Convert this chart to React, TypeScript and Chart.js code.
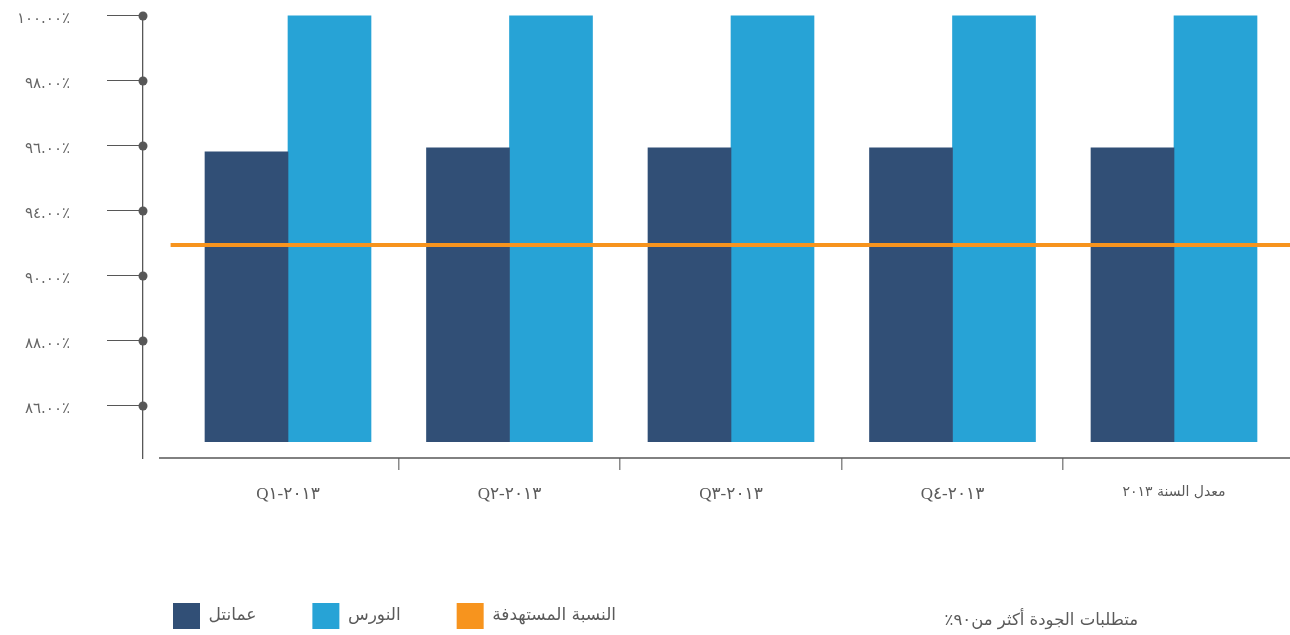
import React, { useEffect, useRef } from "react";
import { Chart, registerables } from "chart.js";

Chart.register(...registerables);

// ---- data ----
const CATEGORIES = [
  "Q١\u200E-٢٠١٣",
  "Q٢\u200E-٢٠١٣",
  "Q٣\u200E-٢٠١٣",
  "Q٤\u200E-٢٠١٣",
  "معدل السنة ٢٠١٣",
];
const OMANTEL = [95.82, 95.94, 95.94, 95.94, 95.94];
const NAWRAS = [100, 100, 100, 100, 100];
const TARGET = 91.9;
const BAR_BASE = 84.9;
const Y_TICK_VALUES = [86, 88, 90, 94, 96, 98, 100];
const Y_TICK_LABELS = ["٨٦.٠٠٪", "٨٨.٠٠٪", "٩٠.٠٠٪", "٩٤.٠٠٪", "٩٦.٠٠٪", "٩٨.٠٠٪", "١٠٠.٠٠٪"];
const SERIES_LABELS = ["عمانتل", "النورس", "النسبة المستهدفة"];
const FOOTNOTE = "متطلبات الجودة أكثر من٩٠٪";

// ---- style ----
const DARK = "#314F76";
const LIGHT = "#27A3D6";
const ORANGE = "#F7941E";
const AXIS = "#575757";
const TEXT = "#5a5a5a";
const AR_FONT = "'DejaVu Sans', sans-serif";
const LAT_FONT = "'Liberation Serif', 'DejaVu Sans', serif";

// percent -> evenly spaced tick position (the axis ticks are evenly spaced labels)
function toPos(v: number): number {
  const t = Y_TICK_VALUES;
  const n = t.length;
  if (v <= t[1]) return (v - t[0]) / (t[1] - t[0]);
  if (v >= t[n - 2]) return n - 2 + (v - t[n - 2]) / (t[n - 1] - t[n - 2]);
  for (let i = 1; i < n - 1; i++) {
    if (v <= t[i + 1]) return i + (v - t[i]) / (t[i + 1] - t[i]);
  }
  return n - 1;
}

const decor = {
  id: "decor",
  afterLayout(chart: any) {
    const lg = chart.legend;
    if (!lg) return;
    const pad = lg.options.labels.padding;
    const dx = 173 - (lg.left + pad);
    const dy = 603 - (lg.top + pad);
    lg.left += dx;
    lg.right += dx;
    lg.top += dy;
    lg.bottom += dy;
  },
  afterDraw(chart: any) {
    const { ctx, chartArea, scales } = chart;
    const y = scales.y;
    ctx.save();
    ctx.strokeStyle = AXIS;
    ctx.lineWidth = 1.5;
    ctx.beginPath();
    ctx.moveTo(chartArea.left + 16, chartArea.bottom);
    ctx.lineTo(chartArea.right, chartArea.bottom);
    ctx.stroke();
    ctx.fillStyle = AXIS;
    y.ticks.forEach((t: any) => {
      const py = y.getPixelForValue(t.value);
      ctx.beginPath();
      ctx.arc(chartArea.left, py, 4.5, 0, Math.PI * 2);
      ctx.fill();
    });
    ctx.restore();
  },
};

export default function App() {
  const ref = useRef<HTMLCanvasElement>(null);

  useEffect(() => {
    if (!ref.current) return;
    const chart = new Chart(ref.current, {
      type: "bar",
      data: {
        datasets: [
          {
            type: "bar",
            label: SERIES_LABELS[0],
            data: CATEGORIES.map((_, i) => ({ x: i, y: toPos(OMANTEL[i]) })),
            backgroundColor: DARK,
            base: toPos(BAR_BASE),
            barThickness: 83,
            order: 2,
          } as any,
          {
            type: "bar",
            label: SERIES_LABELS[1],
            data: CATEGORIES.map((_, i) => ({ x: i, y: toPos(NAWRAS[i]) })),
            backgroundColor: LIGHT,
            base: toPos(BAR_BASE),
            barThickness: 83,
            order: 2,
          } as any,
          {
            type: "line",
            label: SERIES_LABELS[2],
            data: [
              { x: -0.53, y: toPos(TARGET) },
              { x: CATEGORIES.length - 0.47, y: toPos(TARGET) },
            ],
            borderColor: ORANGE,
            backgroundColor: ORANGE,
            borderWidth: 4,
            pointRadius: 0,
            fill: false,
            order: 0,
          } as any,
        ],
      },
      options: {
        animation: false,
        responsive: true,
        maintainAspectRatio: false,
        events: [],
        layout: { padding: { top: 14, left: 0, right: 0, bottom: 0 } },
        scales: {
          x: {
            type: "linear",
            min: -0.6546,
            max: 4.5237,
            offset: false,
            afterBuildTicks: (s: any) => {
              s.ticks = CATEGORIES.map((_, i) => ({ value: i }));
            },
            afterFit: (s: any) => {
              s.height = s.chart.height - 458 - (s.chart.legend ? s.chart.legend.height : 0);
              s.paddingLeft = 0;
              s.paddingRight = 0;
            },
            grid: {
              offset: true,
              drawOnChartArea: false,
              drawTicks: true,
              tickLength: 12,
              lineWidth: 1.5,
              color: (c: any) =>
                c.type !== "tick" || c.index === 0 ? "rgba(0,0,0,0)" : "#8a8a8a",
            },
            border: { display: false },
            ticks: {
              autoSkip: false,
              maxRotation: 0,
              padding: 14,
              color: TEXT,
              font: (c: any) =>
                c.index === CATEGORIES.length - 1
                  ? { family: AR_FONT, size: 14 }
                  : { family: LAT_FONT, size: 17 },
              callback: (_v: any, i: number) => CATEGORIES[i],
            },
          } as any,
          y: {
            type: "linear",
            min: -0.8,
            max: 6.03,
            afterBuildTicks: (s: any) => {
              s.ticks = Y_TICK_LABELS.map((_, i) => ({ value: i }));
            },
            afterFit: (s: any) => {
              s.width = 143;
              s.paddingTop = 0;
              s.paddingBottom = 0;
            },
            grid: {
              drawOnChartArea: false,
              drawTicks: true,
              tickLength: 36,
              color: AXIS,
              lineWidth: 1,
            },
            border: { display: true, color: AXIS, width: 1.3 },
            ticks: {
              padding: 37,
              labelOffset: 3,
              color: "#666666",
              font: { family: AR_FONT, size: 15 },
              callback: (_v: any, i: number) => Y_TICK_LABELS[i],
            },
          } as any,
        },
        plugins: {
          tooltip: { enabled: false },
          legend: {
            display: true,
            position: "bottom",
            align: "start",
            labels: {
              boxWidth: 27,
              boxHeight: 26,
              padding: 56,
              color: TEXT,
              font: { family: AR_FONT, size: 17 },
              sort: (a: any, b: any) => a.datasetIndex - b.datasetIndex,
              generateLabels: (ch: any) =>
                (Chart.defaults.plugins.legend.labels as any)
                  .generateLabels(ch)
                  .map((l: any) => ({ ...l, lineWidth: 0, strokeStyle: "rgba(0,0,0,0)" })),
            },
          },
        },
      },
      plugins: [decor as any],
    });
    return () => chart.destroy();
  }, []);

  return (
    <div
      style={{
        position: "fixed",
        left: 0,
        top: 0,
        width: 1290,
        height: 635,
        background: "#ffffff",
        overflow: "hidden",
      }}
    >
      <canvas ref={ref} />
      <div
        dir="rtl"
        style={{
          position: "absolute",
          right: 152,
          top: 610,
          fontFamily: AR_FONT,
          fontSize: 16.5,
          color: TEXT,
          whiteSpace: "nowrap",
        }}
      >
        {FOOTNOTE}
      </div>
    </div>
  );
}
